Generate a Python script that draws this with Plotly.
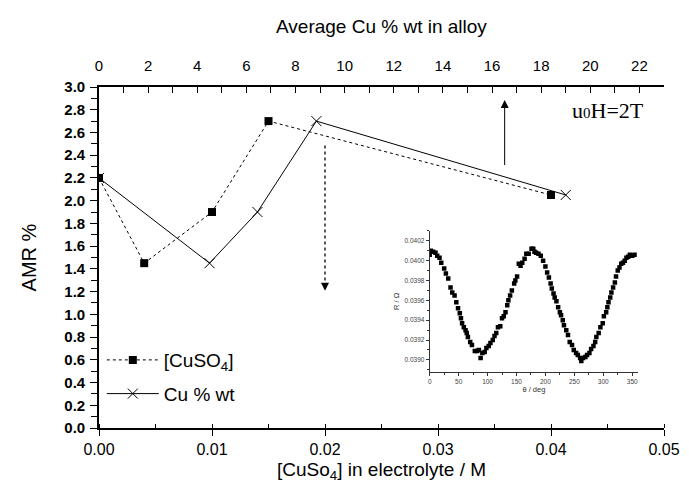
import plotly.graph_objects as go

# ---- main data ----
cuso4_conc = [0.0, 0.004, 0.010, 0.015, 0.040]          # [CuSO4] / M (bottom axis)
amr_cuso4 = [2.20, 1.45, 1.90, 2.70, 2.05]               # AMR %
cu_wt = [0.0, 4.5, 6.45, 8.85, 19.0]                     # Cu % wt (top axis)
amr_cu = [2.20, 1.45, 1.90, 2.70, 2.05]                  # AMR %

# ---- inset data: R vs theta ----
theta_deg = [0, 2, 6, 10, 13, 17, 20, 25, 28, 32, 36, 39, 43, 46, 49, 52, 54, 56, 59, 62,
             64, 66, 70, 73, 78, 82, 85, 88, 91, 95, 98, 102, 105, 109, 112, 115, 118, 122,
             125, 128, 131, 134, 136, 139, 142, 146, 148, 151, 154, 157, 160, 164, 167, 171,
             176, 179, 181, 184, 188, 192, 196, 200, 203, 206, 209, 211, 214, 216, 219, 222,
             225, 227, 230, 232, 236, 239, 242, 246, 249, 253, 256, 260, 262, 265, 269, 272,
             276, 279, 283, 286, 288, 292, 295, 299, 301, 305, 307, 309, 312, 314, 317, 320,
             322, 325, 328, 331, 334, 337, 340, 343, 346, 350, 354]
resistance = [0.04006, 0.04010, 0.04009, 0.04008, 0.04005, 0.04003, 0.03998, 0.03992, 0.03987,
              0.03982, 0.03973, 0.03968, 0.03965, 0.03958, 0.03952, 0.03947, 0.03942, 0.03937,
              0.03933, 0.03930, 0.03927, 0.03923, 0.03918, 0.03915, 0.03909, 0.03909, 0.03910,
              0.03902, 0.03907, 0.03908, 0.03912, 0.03914, 0.03917, 0.03920, 0.03924, 0.03927,
              0.03933, 0.03934, 0.03942, 0.03944, 0.03948, 0.03955, 0.03960, 0.03965, 0.03970,
              0.03977, 0.03980, 0.03984, 0.03997, 0.03995, 0.03998, 0.04002, 0.04007, 0.04007,
              0.04012, 0.04012, 0.04009, 0.04008, 0.04007, 0.04005, 0.04000, 0.03994, 0.03988,
              0.03983, 0.03977, 0.03972, 0.03967, 0.03963, 0.03959, 0.03953, 0.03948, 0.03945,
              0.03940, 0.03935, 0.03930, 0.03925, 0.03918, 0.03915, 0.03910, 0.03907, 0.03905,
              0.03902, 0.03899, 0.03902, 0.03903, 0.03905, 0.03907, 0.03911, 0.03914, 0.03918,
              0.03923, 0.03927, 0.03933, 0.03937, 0.03944, 0.03948, 0.03953, 0.03958, 0.03963,
              0.03968, 0.03973, 0.03978, 0.03984, 0.03990, 0.03993, 0.03997, 0.03998, 0.04000,
              0.04003, 0.04004, 0.04006, 0.04005, 0.04006]

bottom_ticks = [0.0, 0.01, 0.02, 0.03, 0.04, 0.05]
top_ticks = list(range(0, 23, 2))
y_ticks = [round(0.2 * i, 1) for i in range(16)]
y_ticktext = ["<b>%.1f</b>" % v for v in y_ticks]

FONT = "Liberation Sans, Arial, sans-serif"

fig = go.Figure()

fig.add_trace(go.Scatter(
    x=cuso4_conc, y=amr_cuso4, xaxis="x", yaxis="y", mode="lines+markers",
    name="[CuSO<sub>4</sub>]", legendgroup="a",
    line=dict(color="black", width=1, dash="dot"),
    marker=dict(symbol="square", size=8, color="black")))

fig.add_trace(go.Scatter(
    x=cu_wt, y=amr_cu, xaxis="x2", yaxis="y", mode="lines+markers",
    name="Cu % wt", legendgroup="b",
    line=dict(color="black", width=1),
    marker=dict(symbol="x-thin-open", size=10, color="black", line=dict(width=1, color="black"))))

fig.add_trace(go.Scatter(
    x=theta_deg, y=resistance, xaxis="x3", yaxis="y3", mode="markers", showlegend=False,
    marker=dict(symbol="square", size=4.5, color="black")))

fig.update_layout(
    width=689, height=482,
    margin=dict(l=91, r=33, t=79, b=62),
    paper_bgcolor="white", plot_bgcolor="white",
    font=dict(family=FONT, color="black"),
    xaxis=dict(
        domain=[0, 1], anchor="y", range=[0, 0.05], tickvals=bottom_ticks, tickformat=".2f",
        showgrid=False, zeroline=False, showline=True, linecolor="black", linewidth=1.6,
        ticks="outside", ticklen=6, tickwidth=1.2, tickcolor="black",
        tickfont=dict(size=16, family=FONT), ticklabelstandoff=0,
        minor=dict(dtick=0.005, ticks="inside", ticklen=4, tickwidth=1, tickcolor="black")),
    xaxis2=dict(
        overlaying="x", side="top", anchor="y", range=[0, 23], tickvals=top_ticks,
        showgrid=False, zeroline=False, showline=True, linecolor="black", linewidth=1.6,
        ticks="inside", ticklen=6, tickwidth=1.2, tickcolor="black",
        tickfont=dict(size=15, family=FONT), ticklabelstandoff=8,
        minor=dict(dtick=1, ticks="inside", ticklen=6, tickwidth=1, tickcolor="black")),
    yaxis=dict(
        domain=[0, 1], anchor="x", range=[0, 3], tickvals=y_ticks, ticktext=y_ticktext,
        showgrid=False, zeroline=False, showline=True, linecolor="black", linewidth=1.6,
        ticks="outside", ticklen=7, tickwidth=1.2, tickcolor="black",
        tickfont=dict(size=15, family=FONT), ticklabelstandoff=2,
        minor=dict(dtick=0.1, ticks="outside", ticklen=6, tickwidth=1, tickcolor="black")),
    yaxis2=dict(
        overlaying="y", side="right", anchor="x", range=[0, 3], dtick=0.1,
        showgrid=False, zeroline=False, showline=True, linecolor="black", linewidth=1.6,
        ticks="inside", ticklen=5, tickwidth=1, tickcolor="black", showticklabels=False),
    xaxis3=dict(
        domain=[0.5853, 0.954], anchor="y3", range=[0, 360], dtick=50, tick0=0,
        showgrid=False, zeroline=False, showline=True, linecolor="#333", linewidth=1,
        ticks="outside", ticklen=3, tickwidth=0.8, tickcolor="#333",
        tickfont=dict(size=6.5, family=FONT, color="#444"),
        minor=dict(dtick=25, ticks="outside", ticklen=2, tickcolor="#333"),
        title=dict(text="θ / deg", font=dict(size=7.5, family=FONT, color="#333"), standoff=2)),
    yaxis3=dict(
        domain=[0.1648, 0.578], anchor="x3", range=[0.03888, 0.0403], dtick=0.0002, tick0=0.039,
        tickformat=".4f",
        showgrid=False, zeroline=False, showline=True, linecolor="#333", linewidth=1,
        ticks="outside", ticklen=3, tickwidth=0.8, tickcolor="#333",
        tickfont=dict(size=6.5, family=FONT, color="#444"),
        minor=dict(dtick=0.0001, ticks="outside", ticklen=2, tickcolor="#333"),
        title=dict(text="R / Ω", font=dict(size=7.5, family=FONT, color="#333"), standoff=3)),
    legend=dict(
        x=0.005, y=0.255, xanchor="left", yanchor="top", bgcolor="rgba(0,0,0,0)",
        font=dict(size=19, family=FONT), itemwidth=52, tracegroupgap=6),
    showlegend=True,
)

# axis titles as annotations
fig.add_annotation(xref="paper", yref="paper", x=0.5, y=-0.168, xanchor="center", yanchor="bottom",
                   text="[CuSo<sub>4</sub>] in electrolyte / M", showarrow=False,
                   font=dict(size=19, family=FONT, color="black"))
fig.add_annotation(xref="paper", yref="paper", x=0.5, y=1.177, xanchor="center", yanchor="middle",
                   text="Average Cu % wt in alloy", showarrow=False,
                   font=dict(size=19, family=FONT, color="black"))
fig.add_annotation(xref="paper", yref="paper", x=-0.124, y=0.5, xanchor="center", yanchor="middle",
                   text="AMR %", textangle=-90, showarrow=False,
                   font=dict(size=20, family=FONT, color="black"))

# dotted downward arrow
fig.add_shape(type="line", xref="x", yref="y", x0=0.02, x1=0.02, y0=2.485, y1=1.26,
              line=dict(color="black", width=1.3, dash="dot"))
fig.add_annotation(xref="x", yref="y", axref="x", ayref="y", x=0.02, y=1.207, ax=0.02, ay=1.27,
                   text="", showarrow=True, arrowhead=2, arrowsize=1.6, arrowwidth=1, arrowcolor="black")
# solid upward arrow
fig.add_annotation(xref="x", yref="y", axref="x", ayref="y", x=0.0359, y=2.886, ax=0.0359, ay=2.30,
                   text="", showarrow=True, arrowhead=2, arrowsize=1.6, arrowwidth=1, arrowcolor="black")
# field label
fig.add_annotation(xref="paper", yref="paper", x=0.968, y=0.931, xanchor="right", yanchor="middle",
                   text="u<span style='font-size:15px'>0</span>H=2T", showarrow=False,
                   font=dict(family="Liberation Serif, Times New Roman, serif", size=22, color="black"))

fig.write_html("out.html")
